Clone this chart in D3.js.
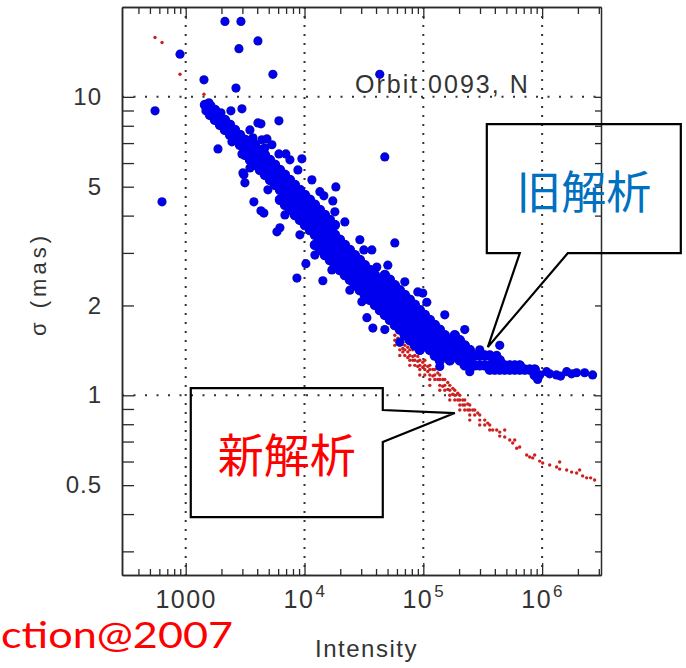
<!DOCTYPE html>
<html>
<head>
<meta charset="utf-8">
<script src="https://cdn.jsdelivr.net/npm/d3@7"></script>
<style>
  body { margin: 0; background: #fff; }
  svg { display: block; }
</style>
</head>
<body>
<svg id="chart"></svg>
<script>
// values (intensity, sigma in mas)
let xMajor = [1e3, 1e4, 1e5, 1e6];
let yLabeled = [0.5, 1, 2, 5, 10];
let yGrid = [1, 10];

// old analysis: dense band, one intensity column -> list of sigmas
let oldBand = [
  [1453, [9.40]],
  [1600, [9.04, 8.71]],
  [1763, [9.04, 8.71, 8.37]],
  [1942, [8.71, 8.37, 8.06]],
  [2139, [8.37, 8.06, 7.75]],
  [2357, [8.06, 7.75, 7.46]],
  [2598, [7.75, 7.46, 7.18]],
  [2861, [7.46, 7.18, 6.91]],
  [3152, [7.18, 6.91, 6.64, 6.39]],
  [3473, [6.91, 6.64, 6.39, 6.15]],
  [3826, [6.91, 6.64, 6.39, 6.15, 5.92]],
  [4215, [6.64, 6.39, 6.15, 5.92, 5.69]],
  [4643, [6.39, 5.92, 5.48]],
  [5115, [6.15, 5.69, 5.27]],
  [5636, [5.92, 5.48, 5.07]],
  [6209, [5.69, 5.27, 4.88, 4.52]],
  [6840, [5.48, 5.07, 4.69, 4.35]],
  [7535, [5.27, 4.88, 4.52, 4.18]],
  [8301, [5.07, 4.69, 4.35, 4.02]],
  [9145, [4.88, 4.52, 4.18, 3.87]],
  [10075, [4.69, 4.35, 4.02, 3.72]],
  [11099, [4.52, 4.18, 3.87, 3.58]],
  [12227, [4.35, 4.02, 3.72, 3.45, 3.19]],
  [13470, [4.18, 3.87, 3.58, 3.32, 3.07]],
  [14840, [4.02, 3.72, 3.45, 3.19, 2.95]],
  [16349, [3.87, 3.58, 3.32, 3.07, 2.84]],
  [18011, [3.72, 3.45, 3.19, 2.95, 2.73]],
  [19842, [3.32, 3.07, 2.84, 2.63]],
  [21859, [3.19, 2.95, 2.73, 2.53]],
  [24081, [3.07, 2.84, 2.63, 2.44]],
  [26529, [2.95, 2.73, 2.53, 2.34]],
  [29226, [2.84, 2.63, 2.44, 2.25]],
  [32197, [2.73, 2.53, 2.34, 2.17]],
  [35470, [2.63, 2.44, 2.25, 2.09]],
  [39076, [2.53, 2.34, 2.17, 2.01]],
  [43048, [2.44, 2.25, 2.09, 1.93]],
  [47425, [2.53, 2.34, 2.17, 2.01, 1.86]],
  [52246, [2.44, 2.25, 2.09, 1.93, 1.79]],
  [57557, [2.34, 2.17, 2.01, 1.86, 1.72]],
  [63409, [2.25, 2.09, 1.93, 1.79, 1.66]],
  [69855, [2.17, 2.01, 1.86, 1.72, 1.59]],
  [76956, [2.09, 1.93, 1.79, 1.66, 1.53]],
  [84779, [2.01, 1.86, 1.72, 1.59, 1.47]],
  [93398, [1.93, 1.79, 1.66, 1.53, 1.42]],
  [102900, [1.86, 1.72, 1.59, 1.47]],
  [113400, [1.79, 1.66, 1.53, 1.42]],
  [124900, [1.72, 1.59, 1.47, 1.36]],
  [137600, [1.66, 1.53, 1.42, 1.31]],
  [151600, [1.59, 1.47, 1.36]],
  [167000, [1.53, 1.42, 1.31]],
  [184000, [1.59, 1.47, 1.36]],
  [202700, [1.53, 1.42, 1.31]],
  [223300, [1.47, 1.36, 1.26]],
  [246000, [1.42, 1.31, 1.26]],
  [271000, [1.36, 1.26]],
  [298500, [1.36, 1.26]],
  [328900, [1.36, 1.26]],
  [362300, [1.36, 1.26, 1.22]],
  [399100, [1.31, 1.22]],
  [439700, [1.31, 1.22]],
  [484400, [1.26, 1.22]],
  [533600, [1.26, 1.22]],
  [587900, [1.26, 1.22]],
  [647600, [1.26, 1.22]],
  [713500, [1.22]],
  [786000, [1.22]],
  [865900, [1.22, 1.17]]
];

// old analysis: ragged points along the band edges
let oldEdge = [
  [3473, 7.75], [4381, 7.18], [5317, 6.91], [7535, 6.15], [8797, 5.69], [11537, 5.27],
  [13470, 4.81], [21859, 3.81], [29226, 3.32], [36870, 3.07], [50260, 2.73], [69855, 2.40],
  [89850, 2.22], [151600, 1.86], [223300, 1.66], [439700, 1.47],
  [2450, 7.07], [3473, 5.78], [4921, 4.88], [6840, 4.02], [9145, 3.45], [12227, 2.95],
  [16995, 2.63], [24081, 2.25], [30380, 2.06], [47425, 1.66], [63409, 1.507], [137600, 1.25],
  [246000, 1.20]
];

// old analysis: scattered points
let oldOutliers = [
  [552, 8.98], [632, 4.45], [896, 13.9], [1425, 11.4], [1570, 9.55], [1632, 9.33], [1481, 8.98],
  [2139, 17.9], [2917, 17.9], [2806, 14.5], [4055, 15.4], [2649, 10.7], [5420, 11.9], [43000, 11.9], [47400, 6.29],
  [1980, 8.84], [2400, 8.98], [2975, 9.12], [1870, 6.69], [3030, 5.56], [3150, 5.15], [3750, 4.45], [4300, 4.15], [4550, 4.08],
  [4055, 8.18], [3680, 7.29], [4300, 8.12], [6090, 8.31], [4830, 7.23], [4643, 6.75], [6090, 6.44], [6970, 6.44], [9500, 6.20],
  [2975, 6.44], [3090, 5.48], [5860, 3.53], [6209, 3.64],
  [18350, 4.99], [14550, 4.66], [17300, 4.48], [18011, 4.12],
  [10270, 2.76], [8630, 2.47], [14270, 2.42],
  [57560, 3.24], [31600, 3.07], [40600, 2.69], [54270, 2.36], [98900, 2.20], [107000, 2.05],
  [33500, 1.82], [37600, 1.68],
  [298500, 1.42], [414800, 1.36],
  [954000, 1.17], [917000, 1.13], [1.09e6, 1.20], [1.158e6, 1.18], [1.32e6, 1.17], [1.43e6, 1.16],
  [1.61e6, 1.20], [1.77e6, 1.18], [1.95e6, 1.19], [2.28e6, 1.19], [2.66e6, 1.17]
];

// new analysis
let newPoints = [
  [552, 15.8], [632, 15.2], [896, 11.9], [1425, 10.2],
  [57557, 1.59], [57557, 1.53], [57557, 1.47],
  [60990, 1.554], [60990, 1.495],
  [63409, 1.53], [63409, 1.47], [63409, 1.42], [63409, 1.36],
  [67200, 1.507], [67200, 1.436], [67200, 1.398],
  [69855, 1.47], [69855, 1.42], [69855, 1.36],
  [74030, 1.448], [74030, 1.398], [74030, 1.339],
  [76956, 1.42], [76956, 1.36], [76956, 1.31], [76956, 1.26],
  [81560, 1.42], [81560, 1.35], [81560, 1.31],
  [84779, 1.36], [84779, 1.31], [84779, 1.26],
  [89850, 1.35], [89850, 1.30], [89850, 1.25],
  [93398, 1.31], [93398, 1.26], [93398, 1.22], [93398, 1.17],
  [98980, 1.29], [98980, 1.241],
  [102900, 1.31], [102900, 1.26], [102900, 1.22], [102900, 1.17],
  [109050, 1.25], [109050, 1.201],
  [113400, 1.26], [113400, 1.22], [113400, 1.17], [113400, 1.13], [113400, 1.08],
  [120180, 1.22], [120180, 1.161],
  [124900, 1.22], [124900, 1.17], [124900, 1.13],
  [132370, 1.188], [132370, 1.13],
  [137600, 1.17], [137600, 1.13], [137600, 1.08], [137600, 1.04],
  [145830, 1.13], [145830, 1.072],
  [151600, 1.13], [151600, 1.08], [151600, 1.04],
  [160660, 1.104], [160660, 1.047],
  [167000, 1.08], [167000, 1.04], [167000, 1.00], [167000, 0.965],
  [176990, 1.055], [176990, 1.008],
  [184000, 1.04], [184000, 1.00], [184000, 0.965],
  [195000, 1.016], [195000, 0.965],
  [202700, 1.00], [202700, 0.965], [202700, 0.928], [202700, 0.893],
  [214800, 0.965], [214800, 0.928],
  [223300, 0.965], [223300, 0.928], [223300, 0.893],
  [236650, 0.935], [236650, 0.893],
  [246000, 0.928], [246000, 0.893], [246000, 0.859], [246000, 0.826],
  [260700, 0.893],
  [271000, 0.893], [271000, 0.859],
  [287200, 0.872],
  [298500, 0.859], [298500, 0.826], [298500, 0.795],
  [328900, 0.826], [328900, 0.795],
  [348560, 0.807],
  [362300, 0.795], [362300, 0.765],
  [384000, 0.765],
  [414900, 0.765],
  [439700, 0.753], [439700, 0.730],
  [484400, 0.725], [484400, 0.765],
  [533600, 0.708],
  [565500, 0.692],
  [587900, 0.708],
  [611100, 0.665],
  [647600, 0.671],
  [741700, 0.631],
  [786000, 0.621],
  [833000, 0.617],
  [865900, 0.631],
  [954000, 0.602],
  [1011000, 0.593],
  [1158000, 0.584],
  [1325000, 0.575],
  [1405000, 0.566], [1405000, 0.598],
  [1609000, 0.562],
  [1772000, 0.553],
  [1952000, 0.549],
  [2069000, 0.562],
  [2193000, 0.537],
  [2370000, 0.529],
  [2560000, 0.529],
  [2767000, 0.520]
];

// callout tips (intensity, sigma)
let oldTip = [3.49e5, 1.45];
let newTip = [1.84e5, 0.872];

let width = 686, height = 668;
let plot = { left: 122, right: 601, top: 7, bottom: 575 };
let axisFont = "'Liberation Sans', Arial, sans-serif";
let ink = '#2a2a2a';

let svg = d3.select('#chart')
    .attr('width', width)
    .attr('height', height)
    .style('background', '#fff');

let x = d3.scaleLog().domain([291, 3.13e6]).range([plot.left, plot.right]);
let y = d3.scaleLog().domain([0.25, 20]).range([plot.bottom, plot.top]);

let xMinor = x.ticks().filter(d => !xMajor.includes(d) && x(d) > plot.left + 3);
let yMinor = y.ticks().filter(d => d <= 10 && !yLabeled.includes(d));

// dotted grid at the decades
let grid = svg.append('g');
grid.selectAll('.gx')
    .data(xMajor)
    .enter().append('line')
    .attr('x1', d => x(d)).attr('x2', d => x(d))
    .attr('y1', plot.top).attr('y2', plot.bottom)
    .style('stroke', '#333').style('stroke-width', 2)
    .style('stroke-dasharray', '2 7');
grid.selectAll('.gy')
    .data(yGrid)
    .enter().append('line')
    .attr('x1', plot.left).attr('x2', plot.right)
    .attr('y1', d => y(d)).attr('y2', d => y(d))
    .style('stroke', '#333').style('stroke-width', 2)
    .style('stroke-dasharray', '2 9.5');

// points: new (red) underneath, old (blue) on top
// band points sit close together, so they get a slightly bigger disc to read as a solid mass
let oldPoints = oldBand.flatMap(([i, s]) => s.map(v => ({ i, s: v, rim: 5.2, core: 4.9 })))
    .concat(oldEdge.concat(oldOutliers).map(([i, s]) => ({ i, s, rim: 4.6, core: 3.9 })));

svg.append('g').selectAll('circle')
    .data(newPoints)
    .enter().append('circle')
    .attr('cx', d => x(d[0]))
    .attr('cy', d => y(d[1]))
    .attr('r', 1.7)
    .style('fill', '#cc2020');

svg.append('g').selectAll('circle')
    .data(oldPoints)
    .enter().append('circle')
    .attr('cx', d => x(d.i))
    .attr('cy', d => y(d.s))
    .attr('r', d => d.rim)
    .style('fill', '#16169a');

svg.append('g').selectAll('circle')
    .data(oldPoints)
    .enter().append('circle')
    .attr('cx', d => x(d.i))
    .attr('cy', d => y(d.s))
    .attr('r', d => d.core)
    .style('fill', '#0000ee');

// axes, ticks pointing inward
let styleAxis = g => {
    g.selectAll('.domain').style('stroke', ink).style('stroke-width', 1.5);
    g.selectAll('.tick line').style('stroke', ink).style('stroke-width', 1.3);
    g.selectAll('text')
        .style('font-family', axisFont)
        .style('fill', '#333');
};

let bottom = svg.append('g')
    .attr('transform', `translate(0, ${plot.bottom})`)
    .call(d3.axisBottom(x).tickValues(xMajor).tickSize(-12).tickSizeOuter(0).tickPadding(15)
        .tickFormat(d => d === 1000 ? '1000' : '10'))
    .call(styleAxis);
bottom.selectAll('text')
    .style('font-size', '25px')
    .style('letter-spacing', '1.5px')
    .filter(d => d > 1000)
    .append('tspan')
    .attr('dy', -11)
    .attr('dx', 1)
    .style('font-size', '17px')
    .text(d => Math.round(Math.log10(d)));

svg.append('g')
    .attr('transform', `translate(0, ${plot.bottom})`)
    .call(d3.axisBottom(x).tickValues(xMinor).tickSize(-6).tickSizeOuter(0).tickFormat(''))
    .call(styleAxis);

svg.append('g')
    .attr('transform', `translate(0, ${plot.top})`)
    .call(d3.axisTop(x).tickValues(xMajor).tickSize(-12).tickSizeOuter(0).tickFormat(''))
    .call(styleAxis);
svg.append('g')
    .attr('transform', `translate(0, ${plot.top})`)
    .call(d3.axisTop(x).tickValues(xMinor).tickSize(-7).tickSizeOuter(0).tickFormat(''))
    .call(styleAxis);

let left = svg.append('g')
    .attr('transform', `translate(${plot.left}, 0)`)
    .call(d3.axisLeft(y).tickValues(yLabeled).tickSize(-12).tickSizeOuter(0).tickPadding(20)
        .tickFormat(d => String(d)))
    .call(styleAxis);
left.selectAll('text')
    .style('font-size', '24px')
    .style('letter-spacing', '1px');

svg.append('g')
    .attr('transform', `translate(${plot.left}, 0)`)
    .call(d3.axisLeft(y).tickValues(yMinor).tickSize(-12).tickSizeOuter(0).tickFormat(''))
    .call(styleAxis);

svg.append('g')
    .attr('transform', `translate(${plot.right}, 0)`)
    .call(d3.axisRight(y).tickValues(yLabeled.concat(yMinor)).tickSize(-6).tickSizeOuter(0).tickFormat(''))
    .call(styleAxis);

// axis titles
svg.append('text')
    .attr('x', (plot.left + plot.right) / 2 + 5)
    .attr('y', 657)
    .attr('text-anchor', 'middle')
    .style('font-family', axisFont)
    .style('font-size', '24px')
    .style('letter-spacing', '1.5px')
    .style('fill', '#333')
    .text('Intensity');

svg.append('text')
    .attr('transform', `translate(46, ${(plot.top + plot.bottom) / 2 - 5}) rotate(-90)`)
    .attr('text-anchor', 'middle')
    .attr('textLength', 100)
    .attr('lengthAdjust', 'spacing')
    .style('font-family', axisFont)
    .style('font-size', '22px')
    .style('fill', '#333')
    .text('σ (mas)');

svg.append('text')
    .attr('x', 355)
    .attr('y', 93)
    .style('font-family', axisFont)
    .style('font-size', '25px')
    .style('letter-spacing', '2px')
    .style('fill', '#333')
    .text('Orbit 0093, N');

// callouts
let callout = svg.append('g')
    .style('fill', 'none')
    .style('stroke', '#000')
    .style('stroke-width', 2.2)
    .style('stroke-linejoin', 'miter');

let [ox, oy] = [x(oldTip[0]), y(oldTip[1])];
callout.append('path')
    .attr('d', `M${ox - 1},${oy - 223} H${ox + 193} V${oy - 94} H${ox + 80} L${ox},${oy} L${ox + 32},${oy - 94} H${ox - 1} Z`);

let [nx, ny] = [x(newTip[0]), y(newTip[1])];
callout.append('path')
    .attr('d', `M${nx - 264},${ny - 25} H${nx - 72} V${ny - 3} L${nx},${ny} L${nx - 72},${ny + 29} V${ny + 104} H${nx - 264} Z`);

svg.append('text')
    .attr('x', ox + 96)
    .attr('y', oy - 158)
    .attr('text-anchor', 'middle')
    .attr('dominant-baseline', 'central')
    .style('font-family', "'Noto Sans CJK JP', sans-serif")
    .style('font-size', '45px')
    .style('fill', '#0070c0')
    .text('旧解析');

svg.append('text')
    .attr('x', nx - 168)
    .attr('y', ny + 39)
    .attr('text-anchor', 'middle')
    .attr('dominant-baseline', 'central')
    .style('font-family', "'Noto Sans CJK JP', sans-serif")
    .style('font-size', '46px')
    .style('fill', '#ff0000')
    .text('新解析');

svg.append('text')
    .attr('x', 1)
    .attr('y', 648)
    .attr('textLength', 232)
    .attr('lengthAdjust', 'spacingAndGlyphs')
    .style('font-family', "Lato, 'Noto Sans', sans-serif")
    .style('font-size', '36px')
    .style('fill', '#ff0000')
    .text('ction@2007');
</script>
</body>
</html>
